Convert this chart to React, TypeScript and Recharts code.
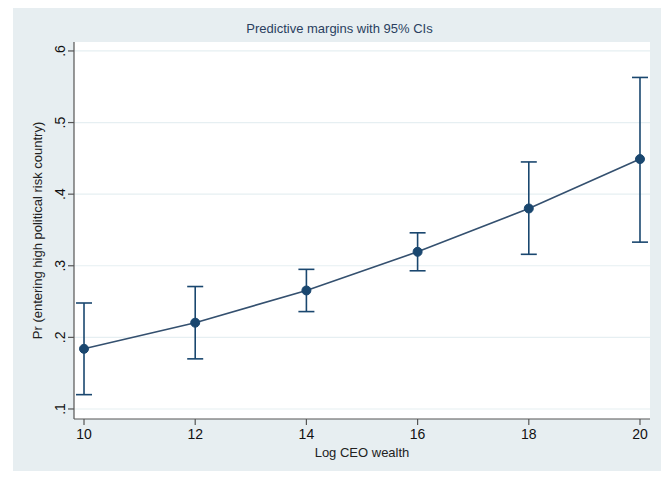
import React from "react";
import { ComposedChart, Line, XAxis, YAxis, CartesianGrid, ErrorBar } from "recharts";

const xValues = [10, 12, 14, 16, 18, 20];
const margins = [0.184, 0.2205, 0.2655, 0.3195, 0.38, 0.449];
const ciLow = [0.12, 0.17, 0.236, 0.293, 0.316, 0.333];
const ciHigh = [0.248, 0.271, 0.295, 0.346, 0.445, 0.563];
const xTicks = [10, 12, 14, 16, 18, 20];
const yTicks = [0.1, 0.2, 0.3, 0.4, 0.5, 0.6];

const data = xValues.map((x, i) => ({
  x,
  y: margins[i],
  err: [margins[i] - ciLow[i], ciHigh[i] - margins[i]],
}));

const NAVY = "#1a476f";
const FONT = "'Liberation Sans', Arial, sans-serif";

const YTick = (props: any) => {
  const { x, y, payload } = props;
  const label = String(Number(payload.value).toFixed(1)).replace(/^0/, "");
  const tx = x - 1;
  return (
    <text
      x={tx}
      y={y}
      transform={`rotate(-90, ${tx}, ${y})`}
      textAnchor="middle"
      fontFamily={FONT}
      fontSize={14}
      fill="#111"
    >
      {label}
    </text>
  );
};

const XTick = (props: any) => {
  const { x, y, payload } = props;
  return (
    <text x={x} y={y + 12} textAnchor="middle" fontFamily={FONT} fontSize={14} fill="#111">
      {payload.value}
    </text>
  );
};

export default function App() {
  return (
    <div style={{ margin: -8, width: 669, height: 479, position: "relative", background: "#fff", overflow: "hidden" }}>
      <div style={{ position: "absolute", left: 13, top: 6, width: 652, height: 473, background: "#e7eef1" }} />
      <div
        style={{
          position: "absolute",
          left: 0,
          top: 21,
          width: 669,
          textAlign: "center",
          fontFamily: FONT,
          fontSize: 13,
          color: "#2a3f5f",
          paddingLeft: 10,
          boxSizing: "border-box",
        }}
      >
        Predictive margins with 95% CIs
      </div>
      <div style={{ position: "absolute", left: 0, top: 0 }}>
        <ComposedChart width={669} height={479} data={data} margin={{ top: 42, right: 19, bottom: 20, left: 30 }}>
          <CartesianGrid vertical={false} stroke="#e6eff2" fill="#ffffff" strokeWidth={1.2} horizontalValues={yTicks} />
          <XAxis
            type="number"
            dataKey="x"
            domain={[9.82, 20.18]}
            ticks={xTicks}
            allowDataOverflow
            height={40}
            tickSize={6}
            tick={<XTick />}
            axisLine={{ stroke: "#555", strokeWidth: 1.2 }}
            tickLine={{ stroke: "#555", strokeWidth: 1.2 }}
            label={{ value: "Log CEO wealth", position: "insideBottom", offset: 2, fontFamily: FONT, fontSize: 13, fill: "#222" }}
          />
          <YAxis
            type="number"
            domain={[0.086, 0.6125]}
            ticks={yTicks}
            allowDataOverflow
            width={44}
            tickSize={6}
            tick={<YTick />}
            axisLine={{ stroke: "#555", strokeWidth: 1.2 }}
            tickLine={{ stroke: "#555", strokeWidth: 1.2 }}
            label={{
              value: "Pr (entering high political risk country)",
              angle: -90,
              position: "insideLeft",
              offset: 0,
              dx: 7,
              style: { textAnchor: "middle", fontFamily: FONT, fontSize: 13, fill: "#222" },
            }}
          />
          <Line
            dataKey="y"
            stroke="#34506f"
            strokeWidth={1.6}
            isAnimationActive={false}
            dot={{ r: 4.5, fill: NAVY, stroke: NAVY, strokeWidth: 1 }}
            activeDot={false}
          >
            <ErrorBar dataKey="err" width={8} stroke={NAVY} strokeWidth={1.6} direction="y" />
          </Line>
        </ComposedChart>
      </div>
    </div>
  );
}
